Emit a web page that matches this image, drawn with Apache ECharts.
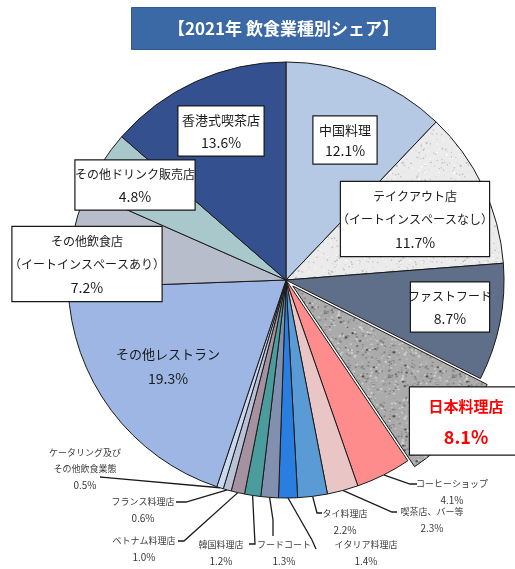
<!DOCTYPE html>
<html><head><meta charset="utf-8">
<script src="https://cdn.jsdelivr.net/npm/echarts@6/dist/echarts.min.js"></script>
<style>html,body{margin:0;padding:0;background:#fff;overflow:hidden}#c{width:515px;height:569px}</style>
</head><body><div id="c"></div>
<script>
// ---- data ----
const categories = ['中国料理', 'テイクアウト店\n（イートインスペースなし）', 'ファストフード', '日本料理店', 'コーヒーショップ', '喫茶店、バー等', 'タイ料理店', 'イタリア料理店', 'フードコート', '韓国料理店', 'ベトナム料理店', 'フランス料理店', 'ケータリング及び\nその他飲食業態', 'その他レストラン', 'その他飲食店\n（イートインスペースあり）', 'その他ドリンク販売店', '香港式喫茶店'];
const shares = [12.1, 11.7, 8.7, 8.1, 4.1, 2.3, 2.2, 1.4, 1.3, 1.2, 1.0, 0.6, 0.5, 19.3, 7.2, 4.8, 13.6];
const titleText = '【2021年 飲食業種別シェア】';
const highlighted = 3;

// ---- styles ----
const FONT = "'Noto Sans CJK JP', 'Noto Sans', sans-serif";
function speckle(base, specks, size, seed) {
  const c = document.createElement('canvas'); c.width = c.height = size;
  const g = c.getContext('2d'); g.fillStyle = base; g.fillRect(0, 0, size, size);
  let s = seed >>> 0;
  const rnd = () => { s ^= s << 13; s >>>= 0; s ^= s >>> 17; s ^= s << 5; s >>>= 0; return s / 4294967296; };
  specks.forEach(([color, count, rmax]) => {
    g.fillStyle = color;
    for (let i = 0; i < count; i++) { const x = rnd() * size, y = rnd() * size, r = 0.35 + rnd() * rmax; g.beginPath(); g.arc(x, y, r, 0, Math.PI * 2); g.fill(); }
  });
  return c;
}
const takeoutPattern = { image: speckle('#EBEBEB', [['#C0C0C0', 160, 0.6], ['#FFFFFF', 80, 0.6]], 64, 12345), repeat: 'repeat' };
const japanesePattern = { image: speckle('#ABABAB', [['#7C7C7C', 170, 0.8], ['#D6D6D6', 170, 0.8], ['#4E4E4E', 25, 1.0]], 64, 98765), repeat: 'repeat' };
const colors = ['#B5C9E5', takeoutPattern, '#5F6F89', japanesePattern, '#FF8C8C', '#E9C5C6', '#5B9BD5', '#2A7EE0', '#8190AE', '#4B9C9C', '#A5919F', '#B9C1D9', '#C9D8EF', '#9DB6E3', '#B7BDCB', '#A9C8CC', '#35508F'];

// label layout (positions only)
const boxLabels = {
  0: { x: 345, y: 140, w: 63, lh: 21, fs: 13, pfs: 14 },
  1: { x: 415, y: 219, w: 148, lh: 23, fs: 12, pfs: 14 },
  2: { x: 450, y: 307, w: 78, lh: 22, fs: 12, pfs: 14 },
  3: { x: 466, y: 421, w: 112, lh: 31, fs: 15, pfs: 18, color: '#FF0000', bold: true },
  13: { x: 168, y: 366, w: 110, lh: 24, fs: 13, pfs: 14, plain: true },
  14: { x: 87, y: 264, w: 149, lh: 23, fs: 12, pfs: 14 },
  15: { x: 135, y: 185, w: 119, lh: 22, fs: 12, pfs: 14 },
  16: { x: 221, y: 131, w: 85, lh: 22, fs: 13, pfs: 14 }
};
const outLabels = {
  4: { x: 452, y: 492, line: [[410, 484], [417, 484]] },
  5: { x: 432, y: 520, line: [[392, 512], [397, 512]] },
  6: { x: 345, y: 522, line: [[317, 513], [322, 513]] },
  7: { x: 366, y: 553, line: [[312, 540], [316, 549]] },
  8: { x: 284, y: 553, line: [[273, 520], [273, 536]] },
  9: { x: 221, y: 553, line: [[255, 544], [249, 544]] },
  10: { x: 144, y: 549, line: [[184, 541], [178, 541]] },
  11: { x: 143, y: 510, line: [[186, 502], [176, 502]] },
  12: { x: 85, y: 469, line: [[104, 477.3], [100, 477]] }
};
const PIE_CENTER = [286, 280], PIE_R = 218;

function pct(v) { return v.toFixed(1) + '%'; }
function makeLabel(i) {
  const name = categories[i];
  const lines = name.split('\n').map(t => '{n|' + t + '}');
  lines.push('{p|' + pct(shares[i]) + '}');
  const b = boxLabels[i];
  if (b) {
    return {
      show: true,
      position: 'inside',
      formatter: lines.join('\n'),
      width: b.w,
      align: 'center',
      padding: [3, 0, 2, 0],
      backgroundColor: b.plain ? 'transparent' : '#FFFFFF',
      borderColor: b.plain ? 'transparent' : '#1A1A1A',
      borderWidth: b.plain ? 0 : 1.2,
      rich: {
        n: { fontFamily: FONT, fontSize: b.fs, lineHeight: b.lh, color: b.color || '#1A1A1A', fontWeight: b.bold ? 'bold' : 'normal', align: 'center', width: b.w },
        p: { fontFamily: FONT, fontSize: b.pfs, lineHeight: b.lh, color: b.color || '#1A1A1A', fontWeight: b.bold ? 'bold' : 'normal', align: 'center', width: b.w }
      }
    };
  }
  return {
    show: true,
    position: 'outside',
    formatter: lines.join('\n'),
    overflow: 'none',
    rich: {
      n: { fontFamily: FONT, fontSize: 9, lineHeight: 16, color: '#3A3A3A', align: 'center' },
      p: { fontFamily: FONT, fontSize: 10, lineHeight: 16, color: '#3A3A3A', align: 'center' }
    }
  };
}

// main pie: every slice; the highlighted slice is exploded (selected), its label is carried by the overlay series
const mainData = categories.map((name, i) => {
  const item = { name: name, value: shares[i], itemStyle: { color: colors[i] } };
  if (i === highlighted) {
    item.selected = true;
    item.label = { show: false };
    item.labelLine = { show: false };
  } else {
    item.label = makeLabel(i);
    item.labelLine = boxLabels[i] ? { show: false } : { show: true, length: 10, length2: 10, lineStyle: { color: '#1A1A1A', width: 1.3 } };
  }
  return item;
});
// overlay pie: same values, invisible slices, only the highlighted label
const overlayData = categories.map((name, i) => ({
  name: name, value: shares[i],
  itemStyle: { color: 'rgba(0,0,0,0)', borderWidth: 0 },
  label: i === highlighted ? makeLabel(i) : { show: false },
  labelLine: { show: false }
}));

function layoutFn(p) {
  const i = p.dataIndex;
  const b = boxLabels[i];
  if (b) return { x: b.x, y: b.y, align: 'center', verticalAlign: 'middle' };
  const o = outLabels[i];
  if (!o) return {};
  const p0 = (p.labelLinePoints && p.labelLinePoints[0]) ? p.labelLinePoints[0] : o.line[0];
  return { x: o.x, y: o.y, align: 'center', verticalAlign: 'middle', labelLinePoints: [p0, o.line[0], o.line[1]] };
}

const chart = echarts.init(document.getElementById('c'), null, { renderer: 'canvas' });
chart.setOption({
  animation: false,
  backgroundColor: '#FFFFFF',
  title: {
    text: titleText,
    left: 131, top: 7,
    padding: [10, 37, 10, 37],
    backgroundColor: '#3A69A5',
    borderColor: '#2E5A92', borderWidth: 1,
    textStyle: { color: '#FFFFFF', fontFamily: FONT, fontSize: 17, fontWeight: 'bold', lineHeight: 23 }
  },
  series: [{
    type: 'pie',
    center: PIE_CENTER,
    radius: PIE_R,
    startAngle: 90,
    clockwise: true,
    avoidLabelOverlap: false,
    selectedMode: 'single',
    selectedOffset: 9,
    emphasis: { disabled: true },
    select: { itemStyle: { borderColor: '#1A1A1A', borderWidth: 1 } },
    itemStyle: { borderColor: '#1A1A1A', borderWidth: 1 },
    data: mainData,
    labelLayout: layoutFn
  }, {
    type: 'pie',
    center: PIE_CENTER,
    radius: PIE_R,
    startAngle: 90,
    clockwise: true,
    silent: true,
    z: 5,
    avoidLabelOverlap: false,
    emphasis: { disabled: true },
    data: overlayData,
    labelLayout: layoutFn
  }]
});
</script>
</body></html>
